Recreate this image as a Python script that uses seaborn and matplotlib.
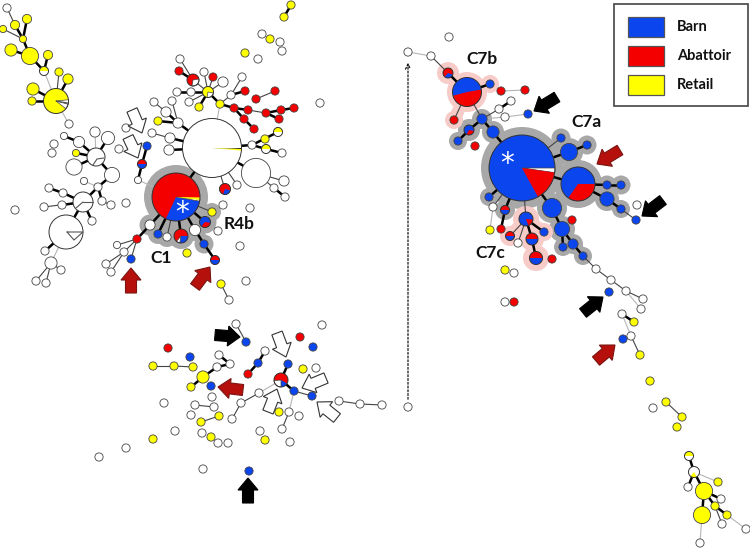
import seaborn as sns
import matplotlib
matplotlib.use("Agg")
import matplotlib.pyplot as plt
from matplotlib.patches import Wedge, Polygon, Rectangle
import numpy as np

BLUE = "#0b45ee"
RED = "#f40000"
YELLOW = "#ffff00"
WHITE = "#ffffff"
GREY = "#a8a8a8"
PINK = "#f7cbc7"
DARKRED = "#b5100c"

# single colour nodes: x, y, radius
white_nodes = [
    (7, 8, 3.5), (69, 124, 3.5), (64, 136, 3), (79, 142, 5), (95, 132, 4.5), (108, 138, 6), (74, 167, 7.5),
    (112, 175, 7), (84, 181, 3), (98, 187, 3.5), (49, 188, 3.5), (63, 193, 3.5), (62, 205, 3.5), (44, 207, 3.5),
    (102, 201, 3.5), (111, 205, 3.5), (92, 221, 3.5), (45, 251, 3.5), (51, 263, 5.5), (61, 270, 3.5), (36, 281, 3.5),
    (46, 283, 3.5), (54, 144, 3.5), (52, 153, 3.5), (15, 210, 3.5), (126, 203, 3.5), (119, 149, 3.5), (126, 128, 3.5),
    (256, 173, 14), (284, 181, 4.5), (274, 188, 3.5), (285, 197, 3.5), (237, 185, 3.5), (252, 145, 3.5), (282, 153, 3.5),
    (178, 123, 4.5), (166, 112, 4.5), (154, 102, 3.5), (172, 101, 3.5), (152, 133, 3.5), (170, 138, 4.5), (169, 150, 4.5),
    (231, 95, 3.5), (242, 77, 3.5), (180, 59, 3.5), (204, 72, 3.5), (223, 82, 4.5), (177, 92, 3.5), (191, 92, 3.5),
    (189, 102, 3.5), (262, 34, 3.5), (280, 42, 3.5), (282, 51, 3.5), (258, 59, 3.5), (320, 103, 3.5), (138, 180, 3),
    (223, 205, 3.5), (218, 231, 3.5), (195, 230, 5), (167, 237, 3.5), (150, 225, 4.5), (117, 245, 3), (124, 252, 3.5),
    (106, 264, 3.5), (111, 272, 3.5), (240, 246, 3.5), (250, 208, 3.5), (229, 300, 3.5), (246, 281, 3.5),
    (408, 52, 3.5), (431, 56, 3.5), (449, 37, 3.5), (499, 109, 3.5), (511, 101, 3.5), (505, 117, 3.5), (637, 205, 3.5),
    (596, 269, 3.5), (611, 280, 3.5), (626, 291, 3.5), (643, 299, 3.5), (641, 309, 3.5), (622, 314, 3.5), (493, 207, 3.5),
    (518, 243, 3.5), (514, 273, 3.5), (505, 302, 3.5), (236, 324, 3.5), (322, 325, 3.5), (316, 368, 3.5),
    (219, 355, 3.5), (230, 364, 3.5), (217, 367, 3.5), (265, 351, 3.5), (259, 393, 3.5), (241, 403, 3.5), (232, 419, 3.5),
    (339, 401, 3.5), (360, 404, 3.5), (382, 405, 3.5), (408, 407, 3.5), (212, 397, 3.5), (164, 403, 3.5), (195, 405, 3.5),
    (214, 407, 3.5), (191, 415, 3.5), (175, 431, 3.5), (202, 433, 3.5), (218, 443, 3.5), (228, 443, 3.5), (126, 448, 3.5),
    (99, 457, 3.5), (203, 469, 3.5), (289, 412, 3.5), (299, 416, 3.5), (282, 429, 3.5), (260, 431, 3.5), (290, 442, 3.5),
    (631, 336, 3.5), (653, 408, 3.5), (688, 487, 3.5), (721, 499, 3.5), (722, 524, 3.5), (746, 529, 3.5), (700, 543, 3.5),
]
yellow_nodes = [
    (27, 19, 4), (15, 25, 4), (3, 29, 3), (23, 39, 3), (11, 50, 5.5), (30, 56, 8), (48, 55, 4), (59, 72, 3.5),
    (68, 79, 4.5), (33, 89, 5.5), (32, 101, 3.5), (76, 153, 3), (158, 121, 3.5), (265, 139, 3.5), (220, 104, 3.5),
    (199, 107, 3.5), (291, 5, 3.5), (284, 17, 3.5), (270, 39, 3.5), (245, 53, 3.5), (212, 212, 3.5), (187, 253, 3.5),
    (221, 284, 3.5), (490, 230, 3.5), (505, 270, 3.5), (303, 369, 3.5), (153, 366, 3.5), (174, 366, 3.5), (193, 367, 3.5),
    (203, 377, 5.5), (191, 387, 3.5), (219, 416, 3.5), (201, 422, 3.5), (211, 437, 3.5), (153, 439, 3.5), (279, 412, 3.5),
    (265, 440, 3.5), (634, 322, 3.5), (640, 355, 3.5), (650, 381, 3.5), (666, 402, 3.5), (682, 417, 3.5), (677, 427, 3.5),
    (718, 482, 3.5), (704, 491, 8), (715, 506, 3.5), (727, 515, 3.5), (702, 515, 8),
]
red_nodes = [
    (179, 71, 3.5), (213, 77, 3.5), (245, 91, 3.5), (234, 108, 3.5), (248, 110, 3.5), (244, 119, 3.5), (254, 129, 3.5),
    (266, 113, 3.5), (281, 110, 3.5), (294, 108, 3.5), (279, 119, 3.5), (256, 99, 3.5), (275, 91, 3.5), (137, 239, 3.5),
    (501, 91, 3.5), (525, 90, 3.5), (454, 120, 3.5), (475, 146, 3.5), (572, 220, 3.5), (501, 229, 3.5), (552, 259, 3.5),
    (514, 302, 3.5), (168, 348, 3.5), (300, 337, 3.5), (248, 374, 3.5),
]
blue_nodes = [
    (147, 146, 3.5), (158, 234, 3.5), (131, 259, 3.5), (204, 244, 3.5), (490, 84, 3.5), (482, 119, 4.5), (528, 114, 3.5),
    (458, 141, 3.5), (493, 132, 5.5), (561, 138, 3.5), (569, 152, 8), (587, 145, 3.5), (607, 185, 3.5), (621, 185, 3.5),
    (607, 199, 6.5), (621, 209, 3.5), (636, 220, 3.5), (552, 208, 9), (562, 229, 7), (563, 247, 3.5), (573, 244, 4.5),
    (583, 256, 3.5), (609, 292, 3.5), (489, 197, 3.5), (544, 232, 3.5), (246, 342, 3.5), (313, 347, 3.5), (190, 357, 3.5),
    (211, 386, 3.5), (258, 363, 3.5), (288, 364, 3.5), (294, 391, 3.5), (312, 396, 3.5), (249, 471, 3.5), (623, 339, 3.5),
]

# pie nodes: x, y, radius, base colour, slices (colour, start, end), degrees clockwise from 3 o'clock
pie_nodes = [
    (44, 71, 4.5, WHITE, [(YELLOW, 180, 360)]),
    (56, 101, 12.5, YELLOW, [(WHITE, -6, 15), (WHITE, 15, 38)]),
    (96, 157, 9, WHITE, []),
    (83, 202, 10, WHITE, []),
    (66, 232, 17, WHITE, []),
    (212, 148, 29.5, WHITE, [("#222222", 0, 2), (YELLOW, 2, 5)]),
    (225, 189, 5.5, RED, [(BLUE, 15, 110)]),
    (278, 132, 4.5, WHITE, [(YELLOW, 180, 360)]),
    (266, 149, 4.5, WHITE, [(YELLOW, 180, 360)]),
    (208, 92, 5.5, YELLOW, [(WHITE, 10, 100)]),
    (193, 80, 6, RED, [(WHITE, -10, 100)]),
    (176, 197, 24, RED, [(BLUE, 10, 115), (WHITE, 5, 10), (YELLOW, 1, 7)]),
    (205, 222, 5.5, BLUE, [(RED, 10, 130)]),
    (181, 236, 7, RED, [(BLUE, 0, 100), (WHITE, 100, 130)]),
    (215, 260, 4.5, RED, [(BLUE, 0, 180)]),
    (142, 164, 4.5, RED, [(BLUE, 0, 180)]),
    (448, 73, 5, RED, [(BLUE, 20, 130)]),
    (467, 92, 14.5, BLUE, [(RED, -10, 165)]),
    (469, 130, 5, BLUE, [(RED, 10, 120)]),
    (522, 168, 33, BLUE, [(WHITE, 0, 8), (RED, 8, 61)]),
    (578, 184, 17, BLUE, [(RED, 0, 125)]),
    (505, 210, 4.5, RED, [(BLUE, 0, 180)]),
    (526, 219, 7, BLUE, [(RED, 5, 70)]),
    (510, 236, 4.5, RED, [(BLUE, 0, 180)]),
    (532, 239, 6, RED, [(BLUE, 0, 180)]),
    (536, 258, 6.5, RED, [(BLUE, 0, 180)]),
    (281, 380, 7, RED, [(BLUE, 30, 90), (WHITE, 90, 175)]),
    (689, 456, 4.5, WHITE, [(YELLOW, 180, 360)]),
    (694, 472, 5.5, WHITE, [(YELLOW, 60, 130)]),
]
# small strokes inside the white pies
inner_lines = [
    [(93, 165), (97, 159), (104, 158)],
    [(83, 202), (93, 202)],
    [(83, 202), (76, 208)],
    [(67, 232), (83, 232), (74, 240), (67, 232)],
    [(56, 101), (68, 103)],
]

thick_edges = [
    ((27, 19), (23, 39)), ((15, 25), (23, 39)), ((23, 39), (30, 56)), ((11, 50), (30, 56)), ((30, 56), (44, 71)),
    ((48, 55), (44, 71)), ((68, 79), (56, 101)), ((33, 89), (56, 101)), ((32, 101), (56, 101)), ((64, 136), (79, 142)),
    ((79, 142), (96, 157)), ((108, 138), (96, 157)), ((76, 153), (96, 157)), ((74, 167), (96, 157)), ((96, 157), (112, 175)),
    ((112, 175), (98, 187)), ((98, 187), (83, 202)), ((98, 187), (102, 201)), ((49, 188), (63, 193)), ((63, 193), (83, 202)),
    ((62, 205), (83, 202)), ((83, 202), (92, 221)), ((83, 202), (66, 232)), ((66, 232), (45, 251)),
    ((212, 148), (178, 123)), ((178, 123), (166, 112)), ((158, 121), (178, 123)), ((170, 138), (212, 148)), ((169, 150), (212, 148)),
    ((212, 148), (176, 197)), ((212, 148), (252, 145)), ((252, 145), (278, 132)), ((252, 145), (266, 149)), ((266, 149), (282, 153)),
    ((212, 148), (256, 173)), ((274, 188), (285, 197)), ((220, 104), (208, 92)), ((231, 95), (245, 91)), ((220, 104), (234, 108)),
    ((234, 108), (248, 110)), ((234, 108), (244, 119)), ((244, 119), (254, 129)), ((266, 113), (281, 110)), ((281, 110), (294, 108)),
    ((266, 113), (279, 119)), ((193, 80), (179, 71)), ((208, 92), (177, 92)), ((208, 92), (199, 107)),
    ((176, 197), (150, 225)), ((176, 197), (158, 234)), ((176, 197), (181, 236)), ((176, 197), (195, 230)), ((176, 197), (205, 222)),
    ((195, 230), (204, 244)), ((204, 244), (215, 260)), ((150, 225), (137, 239)), ((138, 180), (142, 164)), ((142, 164), (147, 146)),
    ((284, 17), (291, 5)), ((448, 73), (467, 92)), ((467, 92), (490, 84)), ((499, 109), (511, 101)), ((482, 119), (469, 130)),
    ((469, 130), (458, 141)), ((482, 119), (493, 132)), ((493, 132), (522, 168)), ((522, 168), (569, 152)), ((569, 152), (587, 145)),
    ((522, 168), (578, 184)), ((578, 184), (607, 185)), ((607, 185), (621, 185)), ((578, 184), (607, 199)), ((607, 199), (621, 209)),
    ((522, 168), (552, 208)), ((552, 208), (562, 229)), ((562, 229), (563, 247)), ((562, 229), (573, 244)), ((573, 244), (583, 256)),
    ((522, 168), (489, 197)), ((522, 168), (505, 210)), ((505, 210), (501, 229)), ((526, 219), (532, 239)), ((526, 219), (544, 232)),
    ((532, 239), (536, 258)), ((622, 314), (634, 322)), ((689, 456), (694, 472)), ((694, 472), (688, 487)), ((694, 472), (704, 491)),
    ((704, 491), (721, 499)), ((704, 491), (715, 506)), ((704, 491), (702, 515)), ((715, 506), (727, 515)),
    ((219, 355), (230, 364)), ((230, 364), (217, 367)), ((217, 367), (203, 377)), ((203, 377), (191, 387)), ((265, 351), (258, 363)),
    ((258, 363), (248, 374)), ((288, 364), (281, 380)), ((281, 380), (294, 391)),
]
thin_edges = [
    ((3, 29), (23, 39)), ((7, 8), (15, 25)), ((59, 72), (56, 101)), ((102, 201), (111, 205)), ((44, 207), (83, 202)),
    ((51, 263), (61, 270)), ((51, 263), (36, 281)), ((51, 263), (46, 283)), ((166, 112), (154, 102)), ((178, 123), (172, 101)),
    ((152, 133), (170, 138)), ((252, 145), (265, 139)), ((212, 148), (225, 189)), ((212, 148), (237, 185)), ((256, 173), (284, 181)),
    ((256, 173), (274, 188)), ((220, 104), (231, 95)), ((231, 95), (242, 77)), ((248, 110), (266, 113)), ((256, 99), (275, 91)),
    ((208, 92), (193, 80)), ((193, 80), (180, 59)), ((208, 92), (204, 72)), ((208, 92), (213, 77)), ((208, 92), (223, 82)),
    ((208, 92), (189, 102)), ((176, 197), (167, 237)), ((176, 197), (212, 212)), ((137, 239), (117, 245)), ((137, 239), (124, 252)),
    ((137, 239), (131, 259)), ((124, 252), (106, 264)), ((124, 252), (111, 272)), ((221, 284), (229, 300)),
    ((431, 56), (448, 73)), ((467, 92), (454, 120)), ((467, 92), (482, 119)), ((482, 119), (499, 109)), ((522, 168), (561, 138)),
    ((621, 209), (636, 220)), ((583, 256), (596, 269)), ((596, 269), (611, 280)), ((611, 280), (626, 291)), ((626, 291), (643, 299)),
    ((522, 168), (493, 207)), ((522, 168), (526, 219)), ((526, 219), (510, 236)), ((526, 219), (518, 243)), ((631, 336), (640, 355)),
    ((666, 402), (682, 417)), ((715, 506), (722, 524)), ((236, 324), (246, 342)), ((153, 366), (174, 366)), ((174, 366), (193, 367)),
    ((294, 391), (312, 396)), ((259, 393), (241, 403)), ((241, 403), (232, 419)), ((289, 412), (282, 429)), ((339, 401), (360, 404)),
    ((360, 404), (382, 405)), ((195, 405), (214, 407)), ((201, 422), (219, 416)),
]
faint_edges = [
    ((44, 71), (56, 101)), ((56, 101), (69, 124)), ((95, 132), (96, 157)), ((84, 181), (98, 187)), ((66, 232), (51, 263)),
    ((212, 148), (220, 104)), ((138, 180), (176, 197)), ((408, 52), (431, 56)), ((501, 91), (525, 90)), ((482, 119), (505, 117)),
    ((505, 117), (528, 114)), ((626, 291), (641, 309)), ((493, 207), (490, 230)), ((622, 314), (631, 336)), ((694, 472), (718, 482)),
    ((727, 515), (746, 529)), ((702, 515), (700, 543)), ((281, 380), (259, 393)), ((294, 391), (289, 412)),
]

# shaded clusters
grey_halo = [
    (176, 197, 32), (150, 225, 10.5), (158, 234, 10), (167, 237, 10), (181, 236, 13), (195, 230, 11), (204, 244, 9.5),
    (205, 222, 11.5), (212, 212, 9),
    (522, 168, 41), (578, 184, 24), (561, 138, 9.5), (569, 152, 14), (587, 145, 9.5), (607, 185, 9.5), (621, 185, 9.5),
    (607, 199, 12), (621, 209, 9), (552, 208, 15), (562, 229, 13), (563, 247, 9), (573, 244, 10), (583, 256, 9),
    (493, 132, 11), (482, 119, 10), (469, 130, 11), (458, 141, 9), (489, 197, 9), (505, 210, 10),
]
grey_links = [
    ((176, 197), (150, 225)), ((150, 225), (158, 234)), ((158, 234), (167, 237)), ((167, 237), (181, 236)), ((181, 236), (195, 230)),
    ((195, 230), (204, 244)), ((195, 230), (205, 222)), ((205, 222), (212, 212)), ((522, 168), (578, 184)), ((561, 138), (569, 152)),
    ((569, 152), (587, 145)), ((578, 184), (607, 185)), ((607, 185), (621, 185)), ((578, 184), (607, 199)), ((607, 199), (621, 209)),
    ((522, 168), (552, 208)), ((552, 208), (562, 229)), ((562, 229), (563, 247)), ((562, 229), (573, 244)), ((573, 244), (583, 256)),
    ((493, 132), (482, 119)), ((482, 119), (469, 130)), ((469, 130), (458, 141)), ((522, 168), (493, 132)),
]
pink_halo = [
    (448, 73, 11), (467, 92, 20), (454, 120, 9), (490, 84, 9), (510, 236, 10), (526, 219, 13), (532, 239, 12), (536, 258, 13),
    (544, 232, 9),
]
pink_links = [
    ((448, 73), (467, 92)), ((467, 92), (454, 120)), ((467, 92), (490, 84)), ((510, 236), (526, 219)), ((526, 219), (532, 239)),
    ((532, 239), (536, 258)), ((526, 219), (544, 232)),
]

# block arrows: tail, tip
black_arrows = [((557, 97), (534, 111)), ((663, 200), (642, 216)), ((583, 313), (603, 297)), ((215, 335), (240, 337)), ((248, 503), (248, 478))]
red_arrows = [((131, 293), (131, 268)), ((195, 287), (210, 267)), ((620, 150), (597, 164)), ((596, 361), (615, 345)), ((243, 390), (218, 387))]
hollow_arrows = [((132, 110), (142, 133)), ((128, 137), (138, 158)), ((277, 333), (286, 357)), ((326, 378), (302, 388)), ((268, 412), (277, 389)), ((337, 418), (317, 402))]

cluster_labels = ["R4b", "C1", "C7b", "C7a", "C7c"]
label_x = [239, 161, 482, 586, 490]
label_y = [224, 258, 59, 122, 253]
asterisk_x = [182, 507]
asterisk_y = [212, 163]

legend_labels = ["Barn", "Abattoir", "Retail"]
legend_colors = [BLUE, RED, YELLOW]
legend_y = [17, 46, 75]

sns.set_theme(style="white")
plt.rcParams["font.family"] = ["Lato", "DejaVu Sans"]

fig = plt.figure(figsize=(7.5, 5.48), dpi=100)
ax = fig.add_axes([0, 0, 1, 1])
ax.set_xlim(0, 750)
ax.set_ylim(548, 0)
ax.axis("off")


def area(r):
    # radius in pixels to scatter size
    return (2 * np.asarray(r, dtype=float) * 72 / 100) ** 2


def draw_nodes(nodes, color, edge="#444444", lw=0.6, z=5, grow=0.6):
    xs, ys, rs = zip(*nodes)
    sns.scatterplot(x=list(xs), y=list(ys), s=area(np.array(rs) + grow), color=color, edgecolor=edge, linewidth=lw,
                    ax=ax, legend=False, zorder=z, clip_on=False)


def draw_edges(edges, color, lw, z=2):
    for a, b in edges:
        ax.plot([a[0], b[0]], [a[1], b[1]], color=color, lw=lw, zorder=z, solid_capstyle="round")


def draw_arrow(tail, tip, face, edge):
    tail = np.array(tail, dtype=float)
    tip = np.array(tip, dtype=float)
    d = tip - tail
    length = np.hypot(*d)
    d = d / length
    n = np.array([-d[1], d[0]])
    neck = tip - d * 12
    pts = [tail + n * 5.5, neck + n * 5.5, neck + n * 10, tip, neck - n * 10, neck - n * 5.5, tail - n * 5.5]
    ax.add_patch(Polygon(pts, closed=True, facecolor=face, edgecolor=edge, lw=0.8, zorder=6))


# halos first
draw_nodes(grey_halo, GREY, edge="none", lw=0, z=1, grow=0)
draw_nodes(pink_halo, PINK, edge="none", lw=0, z=1, grow=0)
draw_edges(grey_links, GREY, 9, z=1)
draw_edges(pink_links, PINK, 9, z=1)

draw_edges(faint_edges, "#b5b5b5", 0.8)
draw_edges(thin_edges, "#444444", 0.8)
draw_edges(thick_edges, "#000000", 1.8)

draw_nodes(white_nodes, WHITE)
draw_nodes(yellow_nodes, YELLOW)
draw_nodes(red_nodes, RED)
draw_nodes(blue_nodes, BLUE)

for x, y, r, base, slices in pie_nodes:
    ax.add_patch(Wedge((x, y), r, 0, 360, facecolor=base, edgecolor="none", zorder=5))
    for col, start, end in slices:
        ax.add_patch(Wedge((x, y), r, start, end, facecolor=col, edgecolor="#444444" if col == WHITE else "none",
                           lw=0.5, zorder=5))
    ax.add_patch(Wedge((x, y), r, 0, 360, facecolor="none", edgecolor="#333333", lw=0.7, zorder=5))

for line in inner_lines:
    lx, ly = zip(*line)
    ax.plot(lx, ly, color="#555555", lw=0.8, zorder=6)

for tail, tip in black_arrows:
    draw_arrow(tail, tip, "#000000", "#000000")
for tail, tip in red_arrows:
    draw_arrow(tail, tip, DARKRED, "#7a1512")
for tail, tip in hollow_arrows:
    draw_arrow(tail, tip, WHITE, "#333333")

for t, x, y in zip(cluster_labels, label_x, label_y):
    ax.text(x, y, t, fontsize=12.5, fontweight="bold", color="#111111", ha="center", va="center", zorder=7)
for x, y in zip(asterisk_x, asterisk_y):
    ax.text(x, y + 1, "*", fontsize=20, color="white", ha="center", va="center", zorder=7, family="DejaVu Sans")

# dotted arrow linking the pieces
ax.annotate("", xy=(408, 60), xytext=(408, 402),
            arrowprops=dict(arrowstyle="->", linestyle=(0, (1.5, 1.5)), color="#111111", lw=0.9, mutation_scale=9))

# legend box
ax.add_patch(Rectangle((614, 4), 134, 102, facecolor="white", edgecolor="#444444", lw=1.2, zorder=7))
for lab, col, y in zip(legend_labels, legend_colors, legend_y):
    ax.add_patch(Rectangle((628, y), 36, 20, facecolor=col, edgecolor="#555555", lw=0.9, zorder=8))
    ax.text(677, y + 10, lab, fontsize=10.5, fontweight="bold", color="#111111", va="center", zorder=8)

fig.savefig("out.png", dpi=100)
